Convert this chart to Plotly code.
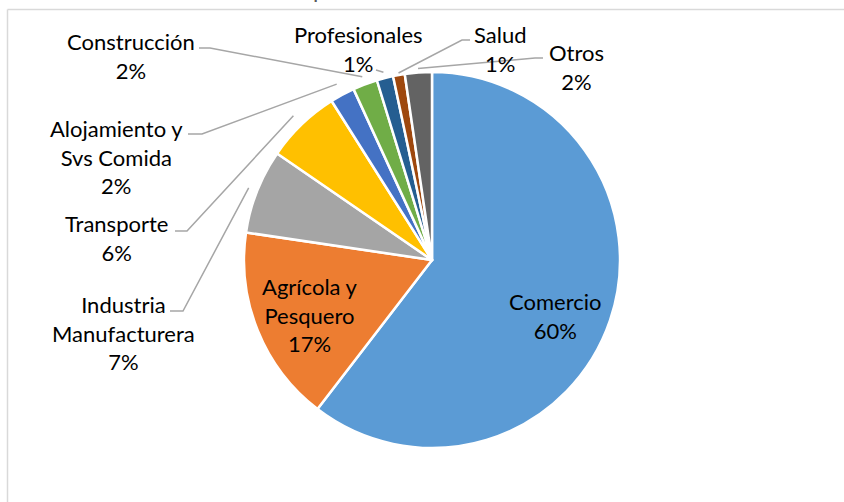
import math
import plotly.graph_objects as go

# ---------------- data ----------------
categories = ["Comercio", "Agrícola y<br>Pesquero", "Industria<br>Manufacturera",
              "Transporte", "Alojamiento y<br>Svs Comida", "Construcción",
              "Profesionales", "Salud", "Otros"]
values = [60.0, 16.8, 7.2, 6.4, 2.1, 2.1, 1.4, 1.0, 2.3]
colors = ["#5B9BD5", "#ED7D31", "#A5A5A5", "#FFC000", "#4472C4",
          "#70AD47", "#255E91", "#9E480E", "#636363"]
title_text = "por actividad económica"

# ---------------- layout geometry (pixels) ----------------
W, H = 844, 502
CX, CY, R = 432, 260, 188

def px(x):
    return x / W

def py(y):
    return 1 - y / H

# label block centres
label_pos = [(555, 316), (310, 315), (123, 333), (117, 238), (117, 157),
             (131, 56), (358, 49), (500, 49), (576, 67)]
# leader lines: (start, elbow) in px, None for inside labels
leaders = [None, None,
           ((170, 311), (183, 311)),
           ((175, 231), (187, 231)),
           ((188, 134), (202, 134)),
           ((199, 48), (210, 48)),
           ((376, 70), None),
           ((470, 40), (462, 40)),
           ((543, 58), (535, 58))]
leader_r = [0, 0, 197, 200, 200, 196, 194, 190, 192]

total = sum(values)
pcts = [round(v / total * 100) for v in values]

fig = go.Figure()
fig.add_trace(go.Pie(
    labels=[c.replace("<br>", " ") for c in categories],
    values=values,
    sort=False,
    direction="clockwise",
    rotation=0,
    marker=dict(colors=colors, line=dict(color="white", width=2.5)),
    textinfo="none",
    hoverinfo="label+percent",
    domain=dict(x=[px(CX - R), px(CX + R)], y=[py(CY + R), py(CY - R)]),
    showlegend=False,
))

annotations = []
shapes = []
font = dict(family="Lato, 'Open Sans', sans-serif", size=22, color="#000000")
cum = 0.0
for i, (cat, v) in enumerate(zip(categories, values)):
    mid = (cum + v / 2) / total * 2 * math.pi
    cum += v
    lx, ly = label_pos[i]
    annotations.append(dict(
        x=px(lx), y=py(ly), xref="paper", yref="paper",
        text=f"{cat}<br>{pcts[i]}%", showarrow=False,
        xanchor="center", yanchor="middle", align="center", font=font))
    if leaders[i] is not None:
        start, elbow = leaders[i]
        ex = CX + leader_r[i] * math.sin(mid)
        ey = CY - leader_r[i] * math.cos(mid)
        pts = [start] + ([elbow] if elbow else []) + [(ex, ey)]
        path = "M " + " L ".join(f"{px(x)},{py(y)}" for x, y in pts)
        shapes.append(dict(type="path", xref="paper", yref="paper", path=path,
                           line=dict(color="#A6A6A6", width=1.5)))

# chart area border (top and left visible)
shapes.append(dict(type="line", xref="paper", yref="paper",
                   x0=px(7.5), y0=py(9.5), x1=1.0, y1=py(9.5),
                   line=dict(color="#D9D9D9", width=1.5)))
shapes.append(dict(type="line", xref="paper", yref="paper",
                   x0=px(7.5), y0=py(9.5), x1=px(7.5), y1=0,
                   line=dict(color="#D9D9D9", width=1.5)))

# title, mostly cut by the top edge
annotations.append(dict(
    x=px(311), y=py(-11), xref="paper", yref="paper", text=title_text,
    showarrow=False, xanchor="left", yanchor="middle",
    font=dict(family="Lato, sans-serif", size=23, color="#595959")))

fig.update_layout(
    width=W, height=H,
    margin=dict(l=0, r=0, t=0, b=0),
    paper_bgcolor="white", plot_bgcolor="white",
    annotations=annotations, shapes=shapes,
)
fig.write_html("out.html", config={"displayModeBar": False},
               post_script="document.body.style.margin='0';document.body.style.overflow='hidden';")
